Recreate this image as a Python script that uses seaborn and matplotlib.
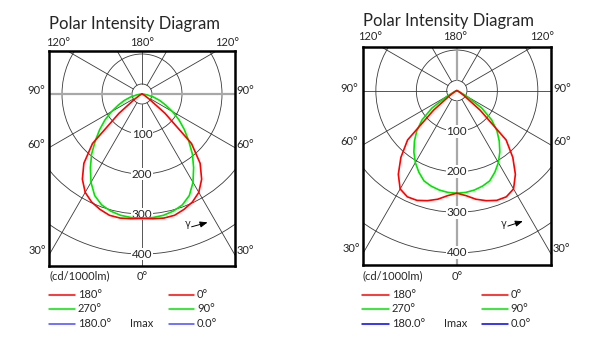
import numpy as np
import pandas as pd
import matplotlib
matplotlib.use("Agg")
import matplotlib.pyplot as plt
from matplotlib.lines import Line2D
from matplotlib.patches import Circle
import seaborn as sns

sns.set_style("white")
plt.rcParams['font.family'] = ['Lato', 'DejaVu Sans']

# ---------------- data (gamma angles in degrees, intensities in cd/1000lm)
gamma = [0, 5, 10, 15, 20, 25, 30, 35, 40, 45, 50, 55, 60, 65, 70, 75, 80, 85, 90]

# left diagram
left_c180 = [311, 313, 315, 314, 307, 298, 284, 260, 226, 175, 75, 22, 8, 3, 1, 0, 0, 0, 0]
left_c0   = [311, 313, 315, 314, 307, 298, 284, 260, 226, 175, 75, 22, 8, 3, 1, 0, 0, 0, 0]
left_c270 = [311, 310, 308, 303, 295, 280, 255, 225, 196, 165, 138, 113, 88, 65, 47, 30, 14, 5, 0]
left_c90  = [311, 310, 308, 303, 295, 280, 255, 225, 196, 165, 138, 113, 88, 65, 47, 30, 14, 5, 0]

# right diagram
right_c180 = [253, 260, 272, 281, 288, 289, 280, 252, 215, 172, 75, 22, 8, 3, 0, 0, 0, 0, 0]
right_c0   = [253, 260, 272, 281, 288, 289, 280, 252, 215, 172, 75, 22, 8, 3, 0, 0, 0, 0, 0]
right_c270 = [253, 252, 249, 244, 237, 222, 205, 185, 163, 140, 112, 75, 28, 8, 2, 0, 0, 0, 0]
right_c90  = [253, 252, 249, 244, 237, 222, 205, 185, 163, 140, 112, 75, 28, 8, 2, 0, 0, 0, 0]

ring_radii = [25, 100, 200, 300, 400]
ring_labels = ["100", "200", "300", "400"]
spoke_angles = [0, 30, 60, 90, 120, 150, 180]

title = "Polar Intensity Diagram"
legend_left = ["180°", "270°", "180.0°"]
legend_right = ["0°", "90°", "0.0°"]
unit_label = "(cd/1000lm)"

RED = "#ff0000"
GREEN = "#00e600"

W, H = 610, 344
fig = plt.figure(figsize=(W / 100, H / 100), dpi=100)
fig.patch.set_facecolor("white")


def px(x, y):
    return x / W, 1 - y / H


def polar_df(vals, side):
    g = np.radians(np.array(gamma, dtype=float))
    v = np.array(vals, dtype=float)
    return pd.DataFrame({"x": side * v * np.sin(g), "y": -v * np.cos(g)})


def panel(box, curves, gray_axis, blue, lab):
    x0, y0, x1, y1 = box
    ax = fig.add_axes([x0 / W, 1 - y1 / H, (x1 - x0) / W, (y1 - y0) / H])
    ax.set_xlim(-232.5, 232.5)
    ax.set_ylim(-430, 107.5)
    ax.set_xticks([])
    ax.set_yticks([])
    for s in ax.spines.values():
        s.set_color("black")
        s.set_linewidth(1.8)
        s.set_zorder(10)

    # rings
    for r in ring_radii:
        ax.add_patch(Circle((0, 0), r, fill=False, ec="#3a3a3a", lw=0.6, zorder=1))
    # spokes
    for a in spoke_angles:
        for side in (-1, 1):
            if side == 1 and a in (0, 180):
                continue
            t = np.radians(a)
            xs = [side * 25 * np.sin(t), side * 700 * np.sin(t)]
            ys = [-25 * np.cos(t), -700 * np.cos(t)]
            gray = (gray_axis == "h" and a == 90) or (gray_axis == "v" and a in (0, 180))
            if gray:
                ax.plot(xs, ys, color="#a8a8a8", lw=1.6, zorder=1.5)
            else:
                ax.plot(xs, ys, color="#3a3a3a", lw=0.6, zorder=1)
    # ring labels
    for r, t in zip(ring_radii[1:], ring_labels):
        ax.text(0, -r, t, ha="center", va="center", fontsize=8.5,
                bbox=dict(boxstyle="square,pad=0.08", fc="white", ec="none"), zorder=2)

    # curves
    for vals, side, col in curves:
        d = polar_df(vals, side)
        sns.lineplot(data=d, x="x", y="y", sort=False, estimator=None,
                     color=col, lw=1.2, ax=ax, zorder=5)
    ax.set_xlabel("")
    ax.set_ylabel("")

    # gamma arrow
    ax.text(lab["g"][0], lab["g"][1], "γ", fontsize=7, ha="center", va="center",
            family=["DejaVu Sans"])
    ax.annotate("", xy=lab["a1"], xytext=lab["a0"],
                arrowprops=dict(arrowstyle="-|>,head_length=0.45,head_width=0.18",
                                color="black", lw=0.7, shrinkA=0, shrinkB=0))

    fs = 8
    # titles and angle labels
    fig.text(*px(x0, lab["ty"]), title, fontsize=12, ha="left", va="center")
    for (x, y, t) in lab["angles"]:
        fig.text(*px(x, y), t, fontsize=fs, ha="center", va="center")
    fig.text(*px(x0, 276), unit_label, fontsize=fs, ha="left", va="center")

    rows = [295, 308.5, 323.5]
    cols_l = [RED, GREEN, blue]
    for i, yy in enumerate(rows):
        fig.add_artist(Line2D([(x0 - 0.5) / W, (x0 + 26) / W], [1 - yy / H] * 2,
                              color=cols_l[i], lw=1.1, transform=fig.transFigure))
        fig.text(*px(x0 + 29, yy), legend_left[i], fontsize=fs, ha="left", va="center")
        fig.add_artist(Line2D([(x0 + 119.5) / W, (x0 + 145.5) / W], [1 - yy / H] * 2,
                              color=cols_l[i], lw=1.1, transform=fig.transFigure))
        fig.text(*px(x0 + 148, yy), legend_right[i], fontsize=fs, ha="left", va="center")
    fig.text(*px(x0 + 81, rows[2]), "Imax", fontsize=fs, ha="left", va="center")
    return ax


# left panel
panel((49, 51, 235, 266),
      [(left_c270, -1, GREEN), (left_c90, 1, GREEN), (left_c180, -1, RED), (left_c0, 1, RED)],
      "h", "#4a4aff",
      dict(ty=24,
           g=(114, -325), a0=(124, -332), a1=(164, -321),
           angles=[(58, 42, "120°"), (142, 42, "180°"), (227.5, 42, "120°"),
                   (36, 91, "90°"), (245.5, 91, "90°"),
                   (36, 144, "60°"), (245.5, 144, "60°"),
                   (37, 250, "30°"), (245.5, 250, "30°"),
                   (142, 276, "0°")]))

# right panel
panel((362.7, 47, 551, 265),
      [(right_c270, -1, GREEN), (right_c90, 1, GREEN), (right_c180, -1, RED), (right_c0, 1, RED)],
      "v", "#0000ee",
      dict(ty=21,
           g=(116, -328), a0=(126, -334), a1=(163, -322),
           angles=[(370, 37, "120°"), (455, 37, "180°"), (542.5, 37, "120°"),
                   (349, 88, "90°"), (562.5, 88, "90°"),
                   (349, 141.5, "60°"), (562.5, 141.5, "60°"),
                   (351, 249, "30°"), (561.5, 249, "30°"),
                   (457, 276, "0°")]))

fig.savefig("out.png", dpi=100, facecolor="white")
